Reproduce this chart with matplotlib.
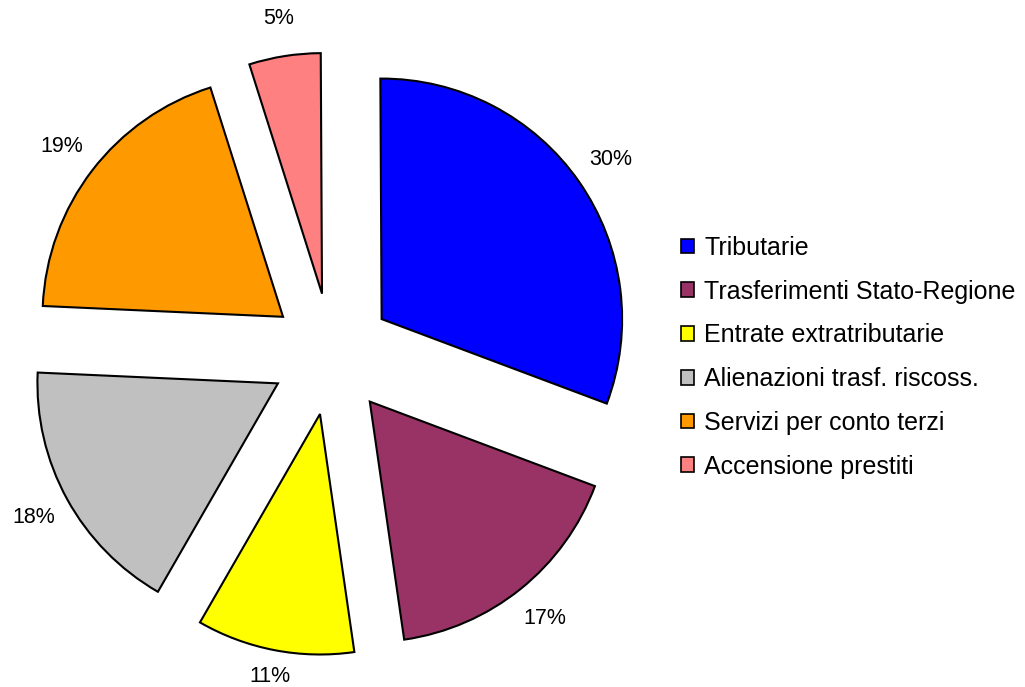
import numpy as np
import matplotlib.pyplot as plt
from matplotlib.patches import Patch

plt.rcParams['font.family'] = ['Liberation Sans', 'DejaVu Sans']

categorie = ['Tributarie', 'Trasferimenti Stato-Regione', 'Entrate extratributarie',
             'Alienazioni trasf. riscoss.', 'Servizi per conto terzi', 'Accensione prestiti']
valori = [30.8, 17.0, 10.6, 17.4, 19.4, 4.8]
etichette = ['30%', '17%', '11%', '18%', '19%', '5%']
colori = ['#0000FF', '#993366', '#FFFF00', '#C0C0C0', '#FF9900', '#FF8080']

fig = plt.figure(figsize=(10.25, 6.87), dpi=100)
ax = fig.add_axes([0, 0, 1, 1])

wedges, _ = ax.pie(
    valori, colors=colori, startangle=90.3, counterclock=False,
    explode=[0.254] * len(valori), radius=1.0,
    wedgeprops=dict(edgecolor='black', linewidth=1.5))

# etichette percentuali fuori dalle fette
dist = [1.16, 1.16, 1.11, 1.16, 1.16, 1.16]
for w, lab, d in zip(wedges, etichette, dist):
    ang = np.deg2rad((w.theta1 + w.theta2) / 2)
    cx, cy = w.center
    ax.text(cx + d * np.cos(ang), cy + d * np.sin(ang), lab,
            ha='center', va='center', fontsize=15.5, color='black')

# centro torta a (331.5, 354) px, raggio 240.5 px
s = 240.5
ax.set_xlim(-331.5 / s, (1025 - 331.5) / s)
ax.set_ylim(-(687 - 354) / s, 354 / s)
ax.set_aspect('equal')
ax.axis('off')

handles = [Patch(facecolor=c, edgecolor='black', linewidth=1.2) for c in colori]
fig.legend(handles, categorie, loc='center left', bbox_to_anchor=(0.655, 0.480),
           frameon=False, fontsize=18, handlelength=0.52, handleheight=0.52,
           handletextpad=0.4, labelspacing=0.79, borderaxespad=0)

fig.savefig('out.png', dpi=100)
